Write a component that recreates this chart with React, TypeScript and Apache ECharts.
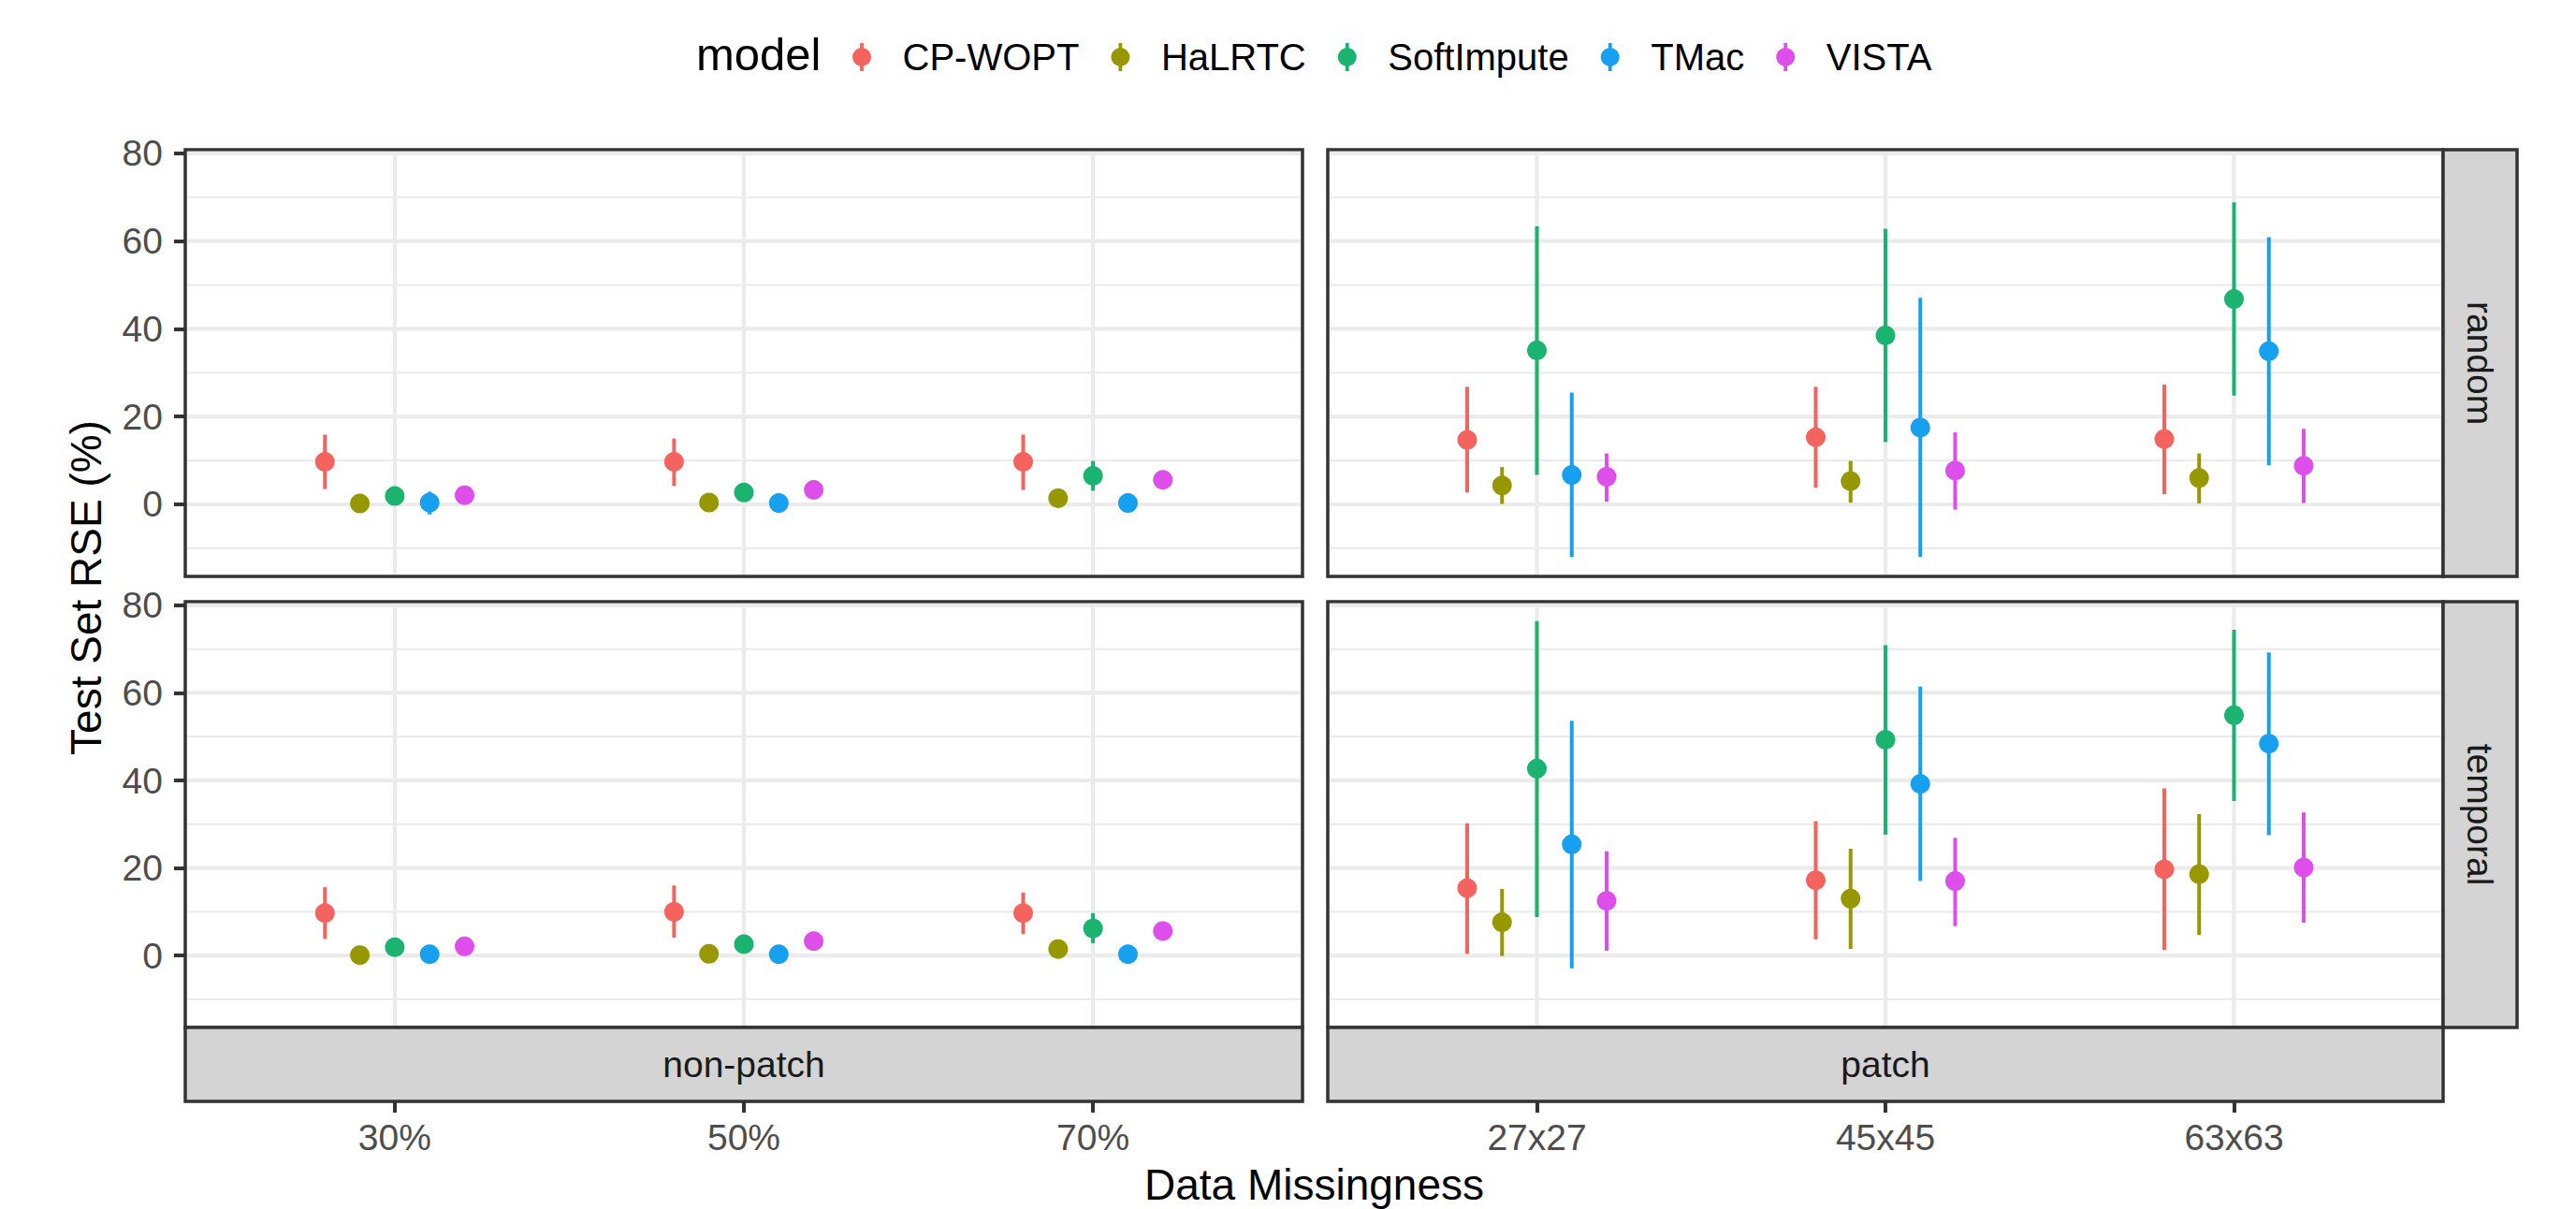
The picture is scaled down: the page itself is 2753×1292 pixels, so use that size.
import React, { useEffect, useRef } from 'react';
import * as echarts from 'echarts';

const models = ['CP-WOPT', 'HaLRTC', 'SoftImpute', 'TMac', 'VISTA'];
const modelColors = ['#F4635D', '#979700', '#1AB36F', '#16A0EF', '#DE4EEB'];
const dodgeOffsets = [-0.2, -0.1, 0, 0.1, 0.2];

const nonPatchCategories = ['30%', '50%', '70%'];
const patchCategories = ['27x27', '45x45', '63x63'];
const rowLabels = ['random', 'temporal'];
const colLabels = ['non-patch', 'patch'];
const yTickValues = [0, 20, 40, 60, 80];
const yMinorValues = [-10, 10, 30, 50, 70];
const xTickValues = [1, 2, 3];

// rows: CP-WOPT, HaLRTC, SoftImpute, TMac, VISTA ; columns: categories
const randomNonPatchMean = [[9.7, 9.7, 9.7], [0.2, 0.4, 1.4], [1.9, 2.7, 6.5], [0.4, 0.3, 0.3], [2.1, 3.3, 5.6]];
const randomNonPatchLow = [[3.5, 4.2, 3.3], [-0.4, -0.2, 0.4], [0.8, 1.7, 3.1], [-2.3, -0.4, -0.4], [1.3, 2.4, 4.6]];
const randomNonPatchHigh = [[15.9, 15.0, 15.9], [0.8, 1.0, 2.4], [3.0, 3.7, 9.9], [2.9, 1.0, 1.0], [2.9, 4.2, 6.6]];

const temporalNonPatchMean = [[9.7, 10.0, 9.7], [0.1, 0.4, 1.5], [1.9, 2.6, 6.2], [0.3, 0.3, 0.3], [2.1, 3.3, 5.6]];
const temporalNonPatchLow = [[3.8, 4.1, 4.9], [-0.4, -0.1, 0.5], [0.9, 1.6, 2.8], [-0.3, -0.3, -0.3], [1.2, 2.3, 4.6]];
const temporalNonPatchHigh = [[15.6, 16.0, 14.4], [0.6, 0.9, 2.5], [2.9, 3.6, 9.7], [0.9, 0.9, 0.9], [3.0, 4.3, 6.6]];

const randomPatchMean = [[14.7, 15.3, 14.9], [4.3, 5.3, 6.0], [35.1, 38.5, 46.8], [6.7, 17.5, 34.9], [6.3, 7.7, 8.8]];
const randomPatchLow = [[2.7, 3.8, 2.3], [0.1, 0.4, 0.2], [6.7, 14.2, 24.8], [-12.0, -12.0, 8.9], [0.6, -1.2, 0.3]];
const randomPatchHigh = [[26.8, 26.8, 27.3], [8.5, 9.9, 11.6], [63.4, 62.8, 68.8], [25.5, 47.1, 60.9], [11.6, 16.4, 17.2]];

const temporalPatchMean = [[15.4, 17.2, 19.7], [7.6, 13.0, 18.6], [42.7, 49.3, 54.9], [25.4, 39.2, 48.4], [12.5, 17.0, 20.1]];
const temporalPatchLow = [[0.4, 3.7, 1.3], [-0.1, 1.5, 4.7], [8.8, 27.6, 35.3], [-2.9, 17.0, 27.5], [1.1, 6.7, 7.5]];
const temporalPatchHigh = [[30.2, 30.7, 38.2], [15.2, 24.4, 32.3], [76.4, 70.9, 74.4], [53.6, 61.4, 69.2], [23.8, 26.9, 32.7]];

const FONT = '"Liberation Sans", Arial, Helvetica, sans-serif';
const BORDER = '#333333';
const STRIP_FILL = '#D4D4D4';
const GRID_COLOR = '#EBEBEB';
const TICK_TEXT = '#4D4D4D';

const panels = [
  { mean: randomNonPatchMean, low: randomNonPatchLow, high: randomNonPatchHigh, cats: nonPatchCategories, rect: { left: 198, top: 160, width: 1194, height: 456 }, yLabels: true },
  { mean: randomPatchMean, low: randomPatchLow, high: randomPatchHigh, cats: patchCategories, rect: { left: 1419, top: 160, width: 1192, height: 456 }, yLabels: false },
  { mean: temporalNonPatchMean, low: temporalNonPatchLow, high: temporalNonPatchHigh, cats: nonPatchCategories, rect: { left: 198, top: 643, width: 1194, height: 455 }, yLabels: true },
  { mean: temporalPatchMean, low: temporalPatchLow, high: temporalPatchHigh, cats: patchCategories, rect: { left: 1419, top: 643, width: 1192, height: 455 }, yLabels: false },
];

const bottomStrips = [
  { cats: nonPatchCategories, label: colLabels[0], rect: { left: 198, top: 1098, width: 1194, height: 79 } },
  { cats: patchCategories, label: colLabels[1], rect: { left: 1419, top: 1098, width: 1192, height: 79 } },
];

const rightStrips = [
  { label: rowLabels[0], x: 2611, y: 160, w: 79, h: 456 },
  { label: rowLabels[1], x: 2611, y: 643, w: 79, h: 455 },
];

const allLow = [randomNonPatchLow, temporalNonPatchLow, randomPatchLow, temporalPatchLow].flat(2);
const allHigh = [randomNonPatchHigh, temporalNonPatchHigh, randomPatchHigh, temporalPatchHigh].flat(2);
const dataMin = Math.min(...allLow);
const dataMax = Math.max(...allHigh);
const yPad = (dataMax - dataMin) * 0.05;
const Y_MIN = dataMin - yPad;
const Y_MAX = dataMax + yPad;
const X_MIN = 0.4;
const X_MAX = 3.6;

const pointRangeIcon =
  'path://M-1.9,-15L1.9,-15L1.9,-9.82A10,10,0,0,1,1.9,9.82L1.9,15L-1.9,15L-1.9,9.82A10,10,0,0,1,-1.9,-9.82Z';

function buildOption() {
  const grid: any[] = [];
  const xAxis: any[] = [];
  const yAxis: any[] = [];
  const series: any[] = [];

  panels.forEach((p, g) => {
    grid.push({
      ...p.rect,
      show: true,
      backgroundColor: '#FFFFFF',
      borderColor: BORDER,
      borderWidth: 3.5,
      containLabel: false,
      outerBoundsMode: 'none',
    });
    xAxis.push({
      gridIndex: g,
      type: 'value',
      min: X_MIN,
      max: X_MAX,
      axisLine: { show: false },
      axisTick: { show: false },
      axisLabel: { show: false },
      splitLine: { show: false },
    });
    yAxis.push({
      gridIndex: g,
      type: 'value',
      min: Y_MIN,
      max: Y_MAX,
      axisLine: { show: false },
      axisTick: p.yLabels
        ? { show: true, customValues: yTickValues, length: 12, lineStyle: { color: BORDER, width: 4 } }
        : { show: false },
      axisLabel: p.yLabels
        ? { show: true, customValues: yTickValues, margin: 24, fontSize: 39, color: TICK_TEXT, fontFamily: FONT }
        : { show: false },
      splitLine: { show: false },
    });

    // grid lines (background), drawn through the axes' scales
    const gridData: number[][] = [];
    yTickValues.forEach((v) => gridData.push([0, v, 1]));
    yMinorValues.forEach((v) => gridData.push([0, v, 0]));
    xTickValues.forEach((v) => gridData.push([1, v, 1]));
    series.push({
      type: 'custom',
      xAxisIndex: g,
      yAxisIndex: g,
      silent: true,
      z: 1,
      data: gridData,
      encode: { x: -1, y: -1 },
      renderItem: (params: any, api: any) => {
        const cs = params.coordSys;
        const orient = api.value(0);
        const v = api.value(1);
        const major = api.value(2) === 1;
        const w = major ? 4.2 : 2.2;
        if (orient === 0) {
          const y = api.coord([1, v])[1];
          return {
            type: 'line',
            shape: { x1: cs.x + 2, y1: y, x2: cs.x + cs.width - 2, y2: y },
            style: { stroke: GRID_COLOR, lineWidth: w },
          };
        }
        const x = api.coord([v, 0])[0];
        return {
          type: 'line',
          shape: { x1: x, y1: cs.y + 2, x2: x, y2: cs.y + cs.height - 2 },
          style: { stroke: GRID_COLOR, lineWidth: w },
        };
      },
    });

    models.forEach((name, m) => {
      const data = p.cats.map((_, i) => [i + 1 + dodgeOffsets[m], p.mean[m][i], p.low[m][i], p.high[m][i]]);
      series.push({
        type: 'custom',
        name,
        xAxisIndex: g,
        yAxisIndex: g,
        z: 2,
        itemStyle: { color: modelColors[m] },
        data,
        encode: { x: 0, y: [1, 2, 3] },
        renderItem: (params: any, api: any) => {
          const x = api.value(0);
          const mid = api.coord([x, api.value(1)]);
          const lo = api.coord([x, api.value(2)]);
          const hi = api.coord([x, api.value(3)]);
          const color = api.visual('color');
          return {
            type: 'group',
            children: [
              {
                type: 'line',
                shape: { x1: hi[0], y1: hi[1], x2: lo[0], y2: lo[1] },
                style: { stroke: color, lineWidth: 4 },
              },
              {
                type: 'circle',
                shape: { cx: mid[0], cy: mid[1], r: 10.5 },
                style: { fill: color },
              },
            ],
          };
        },
      });
    });
  });

  bottomStrips.forEach((s, k) => {
    const g = panels.length + k;
    grid.push({
      ...s.rect,
      show: true,
      backgroundColor: STRIP_FILL,
      borderColor: BORDER,
      borderWidth: 3.5,
      containLabel: false,
      outerBoundsMode: 'none',
    });
    xAxis.push({
      gridIndex: g,
      type: 'value',
      position: 'bottom',
      min: X_MIN,
      max: X_MAX,
      axisLine: { show: false },
      axisTick: { show: true, customValues: xTickValues, length: 12, lineStyle: { color: BORDER, width: 4 } },
      axisLabel: {
        show: true,
        customValues: xTickValues,
        margin: 19,
        fontSize: 39,
        lineHeight: 39,
        color: TICK_TEXT,
        fontFamily: FONT,
        formatter: (v: number) => s.cats[Math.round(v) - 1] ?? '',
      },
      splitLine: { show: false },
    });
    yAxis.push({ gridIndex: g, type: 'value', min: 0, max: 1, show: false });
  });

  const graphic: any[] = [];
  rightStrips.forEach((s) => {
    graphic.push({
      type: 'rect',
      shape: { x: s.x, y: s.y, width: s.w, height: s.h },
      style: { fill: STRIP_FILL, stroke: BORDER, lineWidth: 3.5 },
      z: 5,
    });
    graphic.push({
      type: 'text',
      x: s.x + s.w / 2,
      y: s.y + s.h / 2,
      rotation: -Math.PI / 2,
      z: 6,
      style: {
        text: s.label,
        fontSize: 39,
        fontFamily: FONT,
        fill: '#1A1A1A',
        textAlign: 'center',
        textVerticalAlign: 'middle',
        align: 'center',
        verticalAlign: 'middle',
      },
    });
  });
  bottomStrips.forEach((s) => {
    graphic.push({
      type: 'text',
      x: s.rect.left + s.rect.width / 2,
      y: s.rect.top + s.rect.height / 2,
      z: 6,
      style: {
        text: s.label,
        fontSize: 39,
        fontFamily: FONT,
        fill: '#1A1A1A',
        textAlign: 'center',
        textVerticalAlign: 'middle',
        align: 'center',
        verticalAlign: 'middle',
      },
    });
  });
  graphic.push({
    type: 'text',
    x: 1404.5,
    y: 1266,
    z: 6,
    style: {
      text: 'Data Missingness',
      fontSize: 46,
      fontFamily: FONT,
      fill: '#000000',
      textAlign: 'center',
      textVerticalAlign: 'middle',
      align: 'center',
      verticalAlign: 'middle',
    },
  });
  graphic.push({
    type: 'text',
    x: 92,
    y: 628,
    rotation: Math.PI / 2,
    z: 6,
    style: {
      text: 'Test Set RSE (%)',
      fontSize: 46,
      fontFamily: FONT,
      fill: '#000000',
      textAlign: 'center',
      textVerticalAlign: 'middle',
      align: 'center',
      verticalAlign: 'middle',
    },
  });

  return {
    animation: false,
    backgroundColor: '#FFFFFF',
    color: modelColors,
    title: {
      text: 'model',
      left: 744,
      top: 33,
      padding: 0,
      textStyle: { fontSize: 49, lineHeight: 49, fontWeight: 'normal', color: '#000000', fontFamily: FONT },
    },
    legend: {
      data: models,
      left: 911,
      top: 41,
      padding: 0,
      itemWidth: 77,
      itemHeight: 30,
      itemGap: 34,
      icon: pointRangeIcon,
      symbolKeepAspect: true,
      selectedMode: false,
      textStyle: { fontSize: 40, color: '#000000', fontFamily: FONT },
    },
    grid,
    xAxis,
    yAxis,
    series,
    graphic,
  };
}

export default function App() {
  const ref = useRef<HTMLDivElement>(null);
  useEffect(() => {
    if (!ref.current) return;
    const chart = echarts.init(ref.current, undefined, { renderer: 'svg' });
    chart.setOption(buildOption() as any);
    return () => chart.dispose();
  }, []);
  return (
    <div
      ref={ref}
      style={{ position: 'fixed', left: 0, top: 0, width: '2753px', height: '1292px', background: '#FFFFFF' }}
    />
  );
}
